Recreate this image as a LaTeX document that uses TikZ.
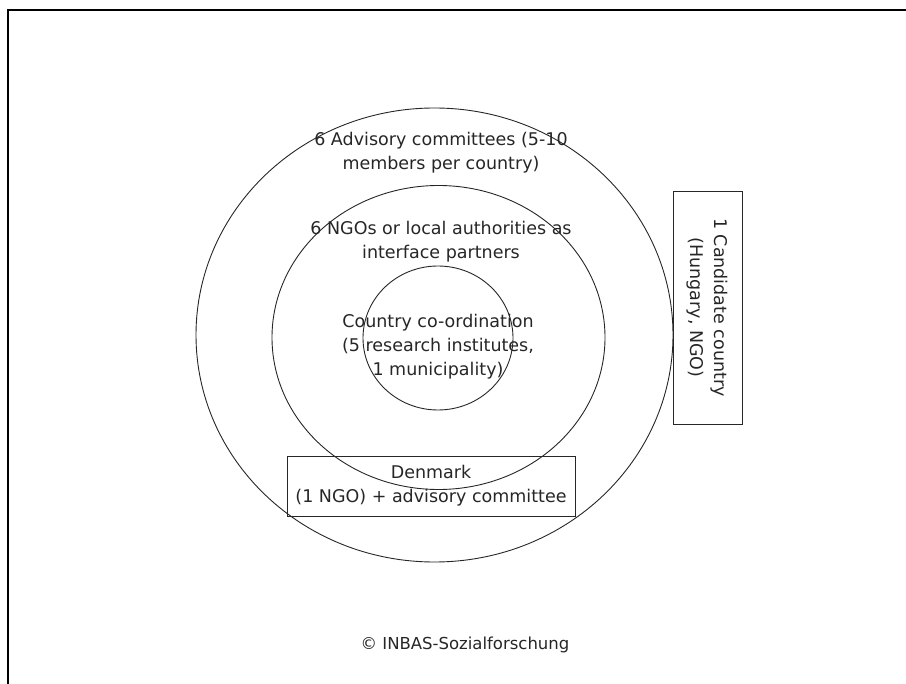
\documentclass[tikz,border=0pt]{standalone}
\usepackage{fontspec}
\setmainfont{DejaVu Sans}
\usetikzlibrary{shapes.geometric}
\begin{document}
\begin{tikzpicture}[x=1pt,y=-1pt,
  ring/.style={draw=black!85, line width=0.9pt, ellipse, inner sep=0pt},
  boxnode/.style={draw=black!85, line width=0.9pt, rectangle, inner sep=0pt, align=center,
    font=\fontsize{17.5}{24}\selectfont, text=black!85},
  lbl/.style={align=center, font=\fontsize{17.5}{24}\selectfont, inner sep=0pt, text=black!85}]
\useasboundingbox (0,0) rectangle (906,684);
\coordinate (fbl) at (8,684);
\coordinate (ftl) at (8,10);
\coordinate (ftr) at (906,10);
\draw[line width=2pt] (fbl) -- (ftl) -- (ftr);
\node[ring, minimum width=477pt, minimum height=454pt] (outer) at (434.5,335) {};
\node[ring, minimum width=333pt, minimum height=304pt] (middle) at (438.5,337.5) {};
\node[ring, minimum width=150pt, minimum height=144pt] (inner) at (438,338) {};
\node[lbl] (advisory) at (441,153) {6 Advisory committees (5-10\\members per country)};
\node[lbl] (ngos) at (441,242) {6 NGOs or local authorities as\\interface partners};
\node[lbl] (coord) at (438,347) {Country co-ordination\\(5 research institutes,\\1 municipality)};
\node[boxnode, rotate=-90, minimum width=233pt, minimum height=69pt] (candidate) at (707.5,307.5) {1 Candidate country\\(Hungary, NGO)};
\node[boxnode, minimum width=288pt, minimum height=60pt] (denmark) at (431,486) {Denmark\\(1 NGO) + advisory committee};
\node[lbl, font=\fontsize{16.5}{20}\selectfont] (copy) at (465,645) {© INBAS-Sozialforschung};
\end{tikzpicture}
\end{document}
